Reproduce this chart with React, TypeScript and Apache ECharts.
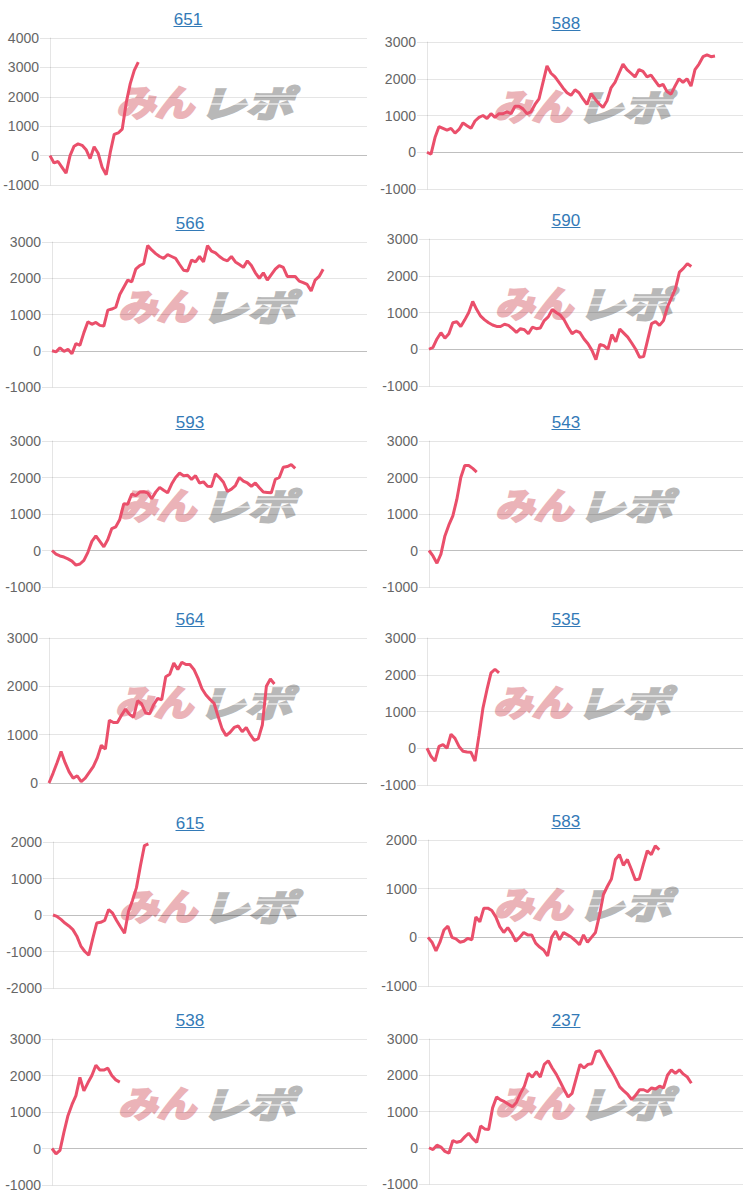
import React, { useEffect, useRef } from 'react';
import * as echarts from 'echarts';

// ---- data ----
const titles = ['651', '588', '566', '590', '593', '543', '564', '535', '615', '583', '538', '237'];
const yMins = [-1000, -1000, -1000, -1000, -1000, -1000, 0, -1000, -2000, -1000, -1000, -1000];
const yMaxs = [4000, 3000, 3000, 3000, 3000, 3000, 3000, 3000, 2000, 2000, 3000, 3000];
const xCount = 80;

const s651 = [0, -250, -200, -400, -600, 0, 320, 400, 350, 200, -100, 300, 80, -400, -650, 100, 720, 770, 900, 1800, 2450, 2900, 3180];
const s588 = [0, -50, 400, 700, 650, 600, 650, 520, 620, 800, 720, 650, 850, 950, 1000, 920, 1050, 950, 1050, 1050, 1100, 1050, 1250, 1250, 1180, 1050, 1100, 1300, 1450, 1900, 2350, 2150, 2050, 1900, 1750, 1620, 1550, 1700, 1620, 1450, 1300, 1600, 1450, 1320, 1220, 1400, 1750, 1900, 2150, 2400, 2250, 2150, 2050, 2250, 2200, 2050, 2100, 1950, 1800, 1850, 1650, 1580, 1800, 2000, 1900, 2000, 1800, 2250, 2400, 2600, 2650, 2600, 2620];
const s566 = [0, -30, 80, -20, 40, -80, 200, 150, 500, 800, 730, 780, 700, 680, 1120, 1150, 1200, 1550, 1750, 1950, 1900, 2250, 2350, 2400, 2900, 2780, 2680, 2600, 2550, 2650, 2600, 2550, 2380, 2220, 2200, 2500, 2450, 2600, 2450, 2900, 2750, 2700, 2600, 2520, 2480, 2600, 2450, 2380, 2300, 2480, 2350, 2150, 2000, 2150, 1950, 2100, 2250, 2350, 2300, 2050, 2050, 2050, 1920, 1880, 1830, 1650, 1950, 2050, 2250];
const s590 = [0, 50, 280, 450, 300, 420, 720, 750, 620, 800, 1000, 1300, 1080, 900, 800, 720, 660, 620, 620, 680, 650, 560, 460, 560, 530, 420, 600, 560, 580, 780, 880, 1080, 1000, 930, 800, 600, 420, 500, 450, 280, 150, -30, -280, 130, 100, 0, 400, 200, 550, 440, 330, 170, 0, -220, -200, 250, 700, 750, 650, 780, 1150, 1400, 1650, 2100, 2200, 2330, 2250];
const s593 = [0, -100, -150, -180, -230, -290, -400, -370, -270, -50, 250, 400, 250, 100, 300, 600, 650, 850, 1280, 1270, 1550, 1500, 1600, 1610, 1580, 1420, 1600, 1730, 1650, 1580, 1820, 2000, 2120, 2050, 2060, 1950, 2050, 1850, 1880, 1760, 1750, 2100, 2000, 1870, 1620, 1680, 1780, 2000, 1900, 1850, 1760, 1850, 1720, 1600, 1590, 1580, 1950, 2000, 2280, 2300, 2350, 2250];
const s543 = [0, -150, -350, -100, 400, 700, 950, 1400, 2000, 2330, 2330, 2250, 2150];
const s564 = [0, 200, 420, 650, 420, 230, 100, 150, 30, 100, 220, 340, 520, 780, 700, 1300, 1250, 1250, 1400, 1530, 1420, 1360, 1700, 1640, 1450, 1430, 1620, 1750, 1720, 2200, 2250, 2480, 2350, 2500, 2450, 2450, 2350, 2170, 1950, 1820, 1730, 1650, 1380, 1120, 980, 1050, 1150, 1180, 1060, 1150, 1000, 880, 920, 1200, 2000, 2150, 2050];
const s535 = [0, -220, -350, 50, 100, 0, 380, 270, 50, -80, -100, -110, -350, 350, 1100, 1600, 2050, 2150, 2050];
const s615 = [0, -40, -120, -220, -300, -400, -580, -850, -1000, -1100, -650, -220, -200, -150, 150, 50, -150, -330, -500, 100, 400, 750, 1350, 1900, 1950];
const s583 = [0, -100, -280, -100, 150, 230, 0, -30, -100, -80, -20, -50, 420, 320, 600, 600, 550, 420, 220, 100, 200, 80, -80, 0, 100, 50, 50, -120, -200, -260, -380, 0, 130, -50, 100, 50, 0, -70, -150, 50, -100, 0, 100, 450, 880, 1050, 1200, 1600, 1700, 1480, 1600, 1400, 1180, 1200, 1500, 1780, 1700, 1880, 1800];
const s538 = [0, -150, -50, 450, 900, 1200, 1450, 1950, 1580, 1800, 2000, 2280, 2150, 2150, 2200, 2000, 1880, 1820];
const s237 = [0, -50, 70, 20, -100, -150, 200, 150, 180, 300, 400, 250, 150, 600, 520, 500, 1100, 1400, 1320, 1270, 1200, 1130, 1250, 1500, 1700, 2050, 1950, 2100, 1950, 2300, 2400, 2200, 2030, 1820, 1600, 1400, 1500, 1900, 2300, 2200, 2300, 2320, 2650, 2680, 2480, 2280, 2100, 1900, 1680, 1570, 1470, 1330, 1450, 1600, 1600, 1550, 1650, 1620, 1700, 1650, 2000, 2150, 2050, 2150, 2030, 1950, 1780];

const seriesValues = [s651, s588, s566, s590, s593, s543, s564, s535, s615, s583, s538, s237];

// ---- layout / style ----
const gridLefts = [50, 427, 52, 429, 52, 429, 49, 427, 53, 428, 52, 429];
const gridTops = [38, 42, 242, 239, 441, 441, 638, 638, 842, 840, 1039, 1039];
const gridHeights = [147, 147, 145, 147, 146, 146, 145, 147, 146, 146, 146, 145];

const LINE_COLOR = '#ea4f6b';
const GRID_COLOR = 'rgba(0,0,0,0.1)';
const ZERO_COLOR = 'rgba(0,0,0,0.25)';
const TITLE_COLOR = '#337ab7';
const FONT = '"Liberation Sans", Arial, Helvetica, sans-serif';
const JP = '"Noto Sans CJK JP", sans-serif';
const PINK = '#ebb3b8';
const GRAY = '#b8b8b8';

function watermark(cx: number, cy: number) {
  const stripe = (y: number) => ({
    type: 'line',
    shape: { x1: -2, y1: y, x2: 94, y2: y },
    style: { stroke: '#ffffff', lineWidth: 1.2 },
  });
  const glyph = (text: string, x: number, color: string, sx: number) => ({
    type: 'text',
    x,
    y: 0,
    scaleX: sx,
    style: {
      text, fill: color, stroke: color, lineWidth: 2.6, fontSize: 36, fontWeight: 'bold', fontStyle: 'italic',
      fontFamily: JP, align: 'left', verticalAlign: 'middle', textAlign: 'left', textVerticalAlign: 'middle',
    },
  });
  return {
    type: 'group',
    x: cx,
    y: cy,
    z: 1,
    silent: true,
    children: [
      glyph('みん', -91, PINK, 1.08),
      glyph('レポ', -8, GRAY, 1.3),
      stripe(-5),
      stripe(3),
    ],
  };
}

export default function App() {
  const ref = useRef<HTMLDivElement>(null);
  useEffect(() => {
    const chart = echarts.init(ref.current!, null, { renderer: 'svg' });
    const xCategories = Array.from({ length: xCount }, (_, i) => String(i));
    const grids: any[] = [];
    const xAxes: any[] = [];
    const yAxes: any[] = [];
    const series: any[] = [];
    const graphics: any[] = [];
    seriesValues.forEach((vals, i) => {
      const left = gridLefts[i];
      const right = i % 2 === 0 ? 367 : 743;
      const top = gridTops[i];
      const height = gridHeights[i];
      grids.push({ left, top, width: right - left, height, outerBoundsMode: 'none', containLabel: false });
      xAxes.push({ type: 'category', gridIndex: i, data: xCategories, boundaryGap: false, show: false });
      const colors: string[] = [];
      for (let v = yMins[i]; v <= yMaxs[i]; v += 1000) colors.push(v === 0 ? ZERO_COLOR : GRID_COLOR);
      yAxes.push({
        type: 'value', gridIndex: i, min: yMins[i], max: yMaxs[i], interval: 1000,
        axisLine: { show: true, lineStyle: { color: GRID_COLOR, width: 1 } },
        axisTick: { show: true, length: 10, lineStyle: { color: GRID_COLOR } },
        axisLabel: { margin: 11, color: '#666', fontSize: 14, fontFamily: FONT, formatter: (v: number) => String(v) },
        splitLine: { show: true, lineStyle: { color: colors, width: 1 } },
      });
      series.push({
        type: 'line', xAxisIndex: i, yAxisIndex: i, data: vals, showSymbol: false, symbol: 'none',
        lineStyle: { color: LINE_COLOR, width: 3 }, itemStyle: { color: LINE_COLOR }, z: 3, silent: true,
      });
      const tx = i === 0 ? 188 : i % 2 === 0 ? 190 : 566;
      graphics.push({
        type: 'text', x: tx, y: top - 19, z: 5,
        style: {
          text: titles[i], fill: TITLE_COLOR, fontSize: 17, fontFamily: FONT,
          align: 'center', verticalAlign: 'middle', textAlign: 'center', textVerticalAlign: 'middle',
        },
      });
      graphics.push({
        type: 'line', z: 5,
        shape: { x1: tx - 14.5, y1: top - 11.5, x2: tx + 14.5, y2: top - 11.5 },
        style: { stroke: TITLE_COLOR, lineWidth: 1 },
      });
      graphics.push(watermark(left + 157, top + 63));
    });
    chart.setOption({
      animation: false,
      backgroundColor: '#ffffff',
      grid: grids,
      xAxis: xAxes,
      yAxis: yAxes,
      series,
      graphic: { elements: graphics },
    });
    return () => chart.dispose();
  }, []);
  return <div ref={ref} style={{ position: 'absolute', left: 0, top: 0, width: 750, height: 1198 }} />;
}
